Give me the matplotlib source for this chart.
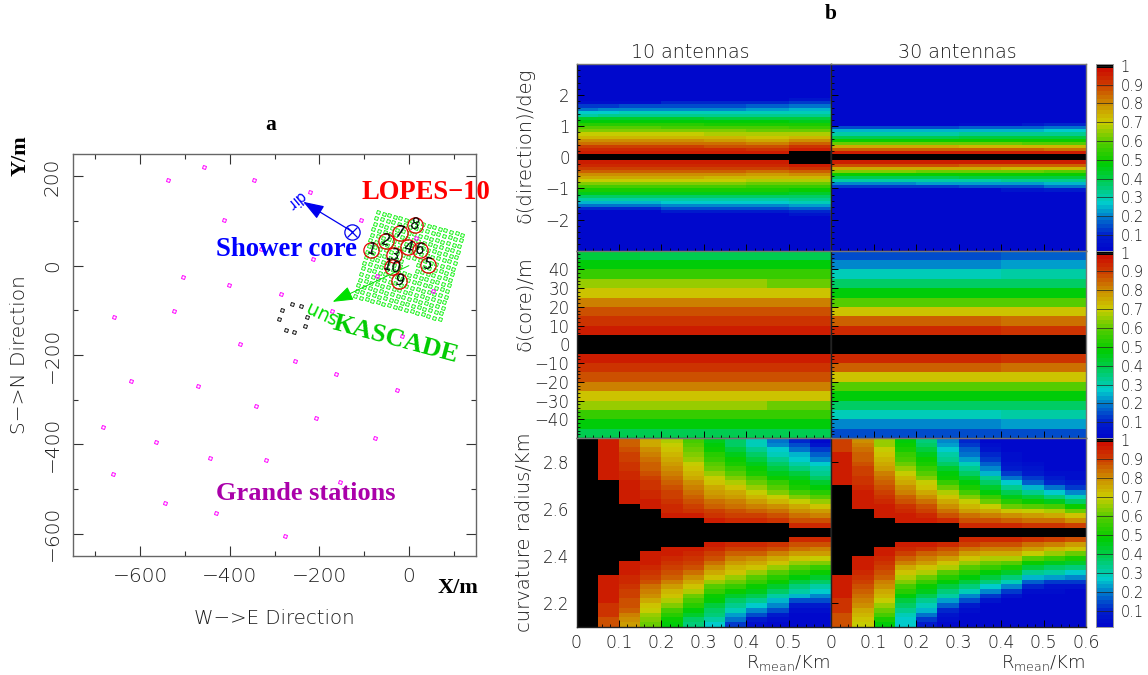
import matplotlib
matplotlib.use('Agg')
import matplotlib.pyplot as plt
from matplotlib.colors import ListedColormap, BoundaryNorm
from matplotlib.markers import MarkerStyle
from matplotlib.ticker import MultipleLocator, FixedLocator, FixedFormatter
from matplotlib.transforms import Affine2D
import numpy as np

W, H = 1148, 675
plt.rcParams['font.family'] = ['DejaVu Sans']
plt.rcParams['font.weight'] = 'light'
plt.rcParams['mathtext.default'] = 'regular'
INK = '#1c1c1c'

# ---- panel a: array layout (metres)
grande_x = [-537, -457, -346, -412, -504, -401, -286, -525, -659, -377, -255, -331,
            -221, -107, -213, -72, 17, 53, -171, -16, -620, -471, -163, -27, -342,
            -207, -76, -682, -564, -443, -320, -660, -154, -544, -431, -276]
grande_y = [192, 222, 192, 102, -25, -43, -64, -102, -115, -176, -214, 37,
            165, 102, 15, -23, 63, -57, -102, -157, -258, -270, -242, -279, -315,
            -342, -385, -362, -394, -430, -436, -467, -484, -532, -553, -605]
piccolo_x = [-260, -240, -227, -231, -256, -275, -289, -284]
piccolo_y = [-86, -90, -115, -135, -149, -144, -120, -99]
lopes_x = [-83.5, -51, -33, -1.6, 42.5, 24.6, -20, 12.8, -22.4, -38]
lopes_y = [35, 55, 22.8, 40.8, 2.2, 35, 72.7, 91, -34.3, -3]
lopes_id = ['1', '2', '3', '4', '5', '6', '7', '8', '9', '10']
kascade_offsets = [-97.5, -84.5, -71.5, -58.5, -45.5, -32.5, -19.5, -6.5,
                   6.5, 19.5, 32.5, 45.5, 58.5, 71.5, 84.5, 97.5]
kascade_angle = 15
core_xy = (-126, 76)
dir_tip = (-236, 143)
sun_tip = (-170, -81)

# ---- panel b: R bins and sensitivity tables (percent, 100 = black cell)
r_edges = [0, 0.05, 0.1, 0.15, 0.2, 0.25, 0.3, 0.35, 0.4, 0.45, 0.5, 0.55, 0.6]

# direction, rows go outward from zero starting at |d| = 0.1 deg
dir10_up = [
    [96, 96, 96, 96, 96, 96, 96, 96, 96, 96, 100, 100],
    [93, 93, 93, 93, 93, 93, 93, 93, 92, 92, 96, 96],
    [89, 89, 89, 89, 89, 89, 88, 88, 87, 87, 91, 91],
    [84, 84, 84, 84, 84, 84, 83, 83, 82, 82, 85, 85],
    [79, 79, 79, 79, 79, 79, 78, 78, 76, 76, 79, 79],
    [74, 74, 74, 74, 73, 73, 73, 73, 71, 71, 73, 73],
    [69, 69, 69, 69, 69, 69, 68, 68, 67, 67, 67, 67],
    [64, 64, 64, 64, 64, 64, 63, 63, 62, 62, 61, 61],
    [59, 59, 59, 59, 58, 58, 58, 58, 57, 57, 56, 56],
    [53, 53, 53, 53, 53, 53, 52, 52, 52, 52, 51, 51],
    [48, 48, 48, 48, 48, 48, 47, 47, 47, 47, 46, 46],
    [43, 43, 43, 43, 43, 43, 42, 42, 42, 42, 41, 41],
    [31, 32, 33, 33, 33, 33, 33, 33, 33, 33, 34, 34],
    [27, 27, 28, 28, 28, 28, 28, 28, 29, 29, 29, 29],
    [19, 21, 21, 21, 21, 21, 21, 21, 22, 22, 25, 25],
    [12, 12, 15, 15, 15, 15, 15, 15, 16, 16, 18, 18],
    [5, 5, 5, 5, 10, 10, 10, 10, 11, 11, 12, 12],
    [3, 3, 3, 3, 3, 3, 3, 3, 3, 3, 7, 7],
]
dir10_down = [
    [96, 96, 96, 96, 96, 96, 96, 96, 96, 96, 100, 100],
    [94, 94, 94, 94, 94, 94, 94, 94, 93, 93, 96, 96],
    [90, 90, 90, 90, 90, 90, 90, 90, 89, 89, 92, 92],
    [85, 85, 85, 85, 85, 85, 85, 85, 83, 83, 85, 85],
    [80, 80, 80, 80, 80, 80, 80, 80, 78, 78, 80, 80],
    [75, 75, 75, 75, 75, 75, 74, 74, 73, 73, 74, 74],
    [70, 70, 70, 70, 70, 70, 69, 69, 68, 68, 68, 68],
    [64, 64, 64, 64, 64, 64, 63, 63, 62, 62, 62, 62],
    [58, 58, 58, 58, 58, 58, 57, 57, 56, 56, 56, 56],
    [52, 52, 52, 52, 52, 52, 51, 51, 51, 51, 50, 50],
    [46, 46, 46, 46, 46, 46, 45, 45, 45, 45, 44, 44],
    [38, 38, 38, 38, 38, 38, 38, 38, 38, 38, 38, 38],
    [30, 30, 30, 30, 31, 31, 31, 31, 31, 31, 32, 32],
    [24, 24, 25, 25, 26, 26, 26, 26, 27, 27, 28, 28],
    [18, 18, 18, 18, 20, 20, 20, 20, 21, 21, 23, 23],
    [10, 10, 11, 11, 14, 14, 14, 14, 15, 15, 17, 17],
    [3, 3, 3, 3, 8, 8, 8, 8, 8, 8, 11, 11],
    [3, 3, 3, 3, 3, 3, 3, 3, 3, 3, 6, 6],
]
dir30_up = [
    [96, 96, 96, 96, 96, 96, 96, 96, 96, 96, 96, 96],
    [86, 86, 86, 86, 86, 86, 86, 85, 85, 85, 84, 84],
    [75, 75, 75, 75, 75, 75, 74, 74, 74, 73, 73, 73],
    [62, 62, 62, 62, 62, 62, 61, 61, 61, 60, 60, 60],
    [50, 50, 50, 50, 50, 50, 50, 50, 50, 50, 50, 50],
    [40, 40, 40, 40, 40, 40, 41, 41, 41, 42, 42, 42],
    [30, 30, 30, 30, 31, 31, 32, 32, 32, 33, 34, 34],
    [24, 24, 24, 24, 24, 24, 25, 25, 25, 25, 26, 26],
    [14, 14, 14, 14, 15, 15, 16, 16, 17, 17, 19, 19],
    [3, 3, 3, 3, 3, 3, 5, 5, 5, 8, 10, 10],
]
dir30_down = [
    [96, 96, 96, 96, 96, 96, 96, 96, 96, 96, 96, 96],
    [87, 87, 87, 87, 87, 87, 86, 86, 86, 85, 85, 85],
    [76, 76, 76, 76, 76, 75, 75, 75, 74, 74, 73, 73],
    [63, 63, 63, 63, 62, 62, 62, 62, 61, 61, 60, 60],
    [50, 50, 50, 50, 50, 50, 50, 50, 50, 50, 50, 50],
    [40, 40, 40, 40, 40, 40, 41, 41, 41, 42, 42, 42],
    [30, 30, 30, 30, 30, 30, 31, 31, 32, 32, 33, 33],
    [21, 21, 21, 21, 22, 22, 22, 22, 23, 23, 25, 25],
    [12, 12, 12, 12, 13, 13, 14, 14, 15, 15, 18, 18],
    [3, 3, 3, 3, 3, 3, 3, 3, 6, 6, 9, 9],
]

# core, rows go outward from zero starting at |d| = 5 m
core10_up = [
    [96, 96, 96, 96, 96, 96, 96, 96, 96, 96, 96, 96],
    [92, 92, 92, 92, 92, 92, 92, 92, 92, 92, 92, 92],
    [87, 87, 87, 87, 87, 87, 87, 87, 87, 87, 87, 87],
    [81, 81, 81, 81, 81, 81, 81, 81, 81, 81, 81, 81],
    [72, 72, 72, 72, 72, 72, 72, 72, 72, 72, 72, 72],
    [65, 65, 65, 65, 65, 65, 65, 65, 65, 61, 61, 61],
    [55, 55, 55, 55, 55, 55, 55, 55, 55, 55, 55, 55],
    [48, 48, 48, 48, 48, 48, 48, 48, 48, 48, 48, 48],
    [41, 41, 41, 40, 40, 40, 40, 40, 40, 40, 40, 40],
]
core10_down = [
    [96, 96, 96, 96, 96, 96, 96, 96, 96, 96, 96, 96],
    [92, 92, 92, 92, 92, 92, 92, 92, 92, 92, 92, 92],
    [87, 87, 87, 87, 87, 87, 87, 87, 87, 87, 87, 87],
    [81, 81, 81, 81, 81, 81, 81, 81, 81, 81, 81, 81],
    [72, 72, 72, 72, 72, 72, 72, 72, 72, 72, 72, 72],
    [65, 65, 65, 65, 65, 65, 65, 65, 65, 61, 61, 61],
    [55, 55, 55, 55, 55, 55, 55, 55, 55, 55, 55, 55],
    [48, 48, 48, 48, 48, 48, 48, 48, 48, 48, 48, 48],
    [40, 40, 40, 40, 40, 40, 40, 40, 40, 40, 40, 40],
]
core30_up = [
    [93, 93, 93, 93, 93, 93, 93, 93, 92, 92, 92, 92],
    [85, 85, 85, 85, 85, 85, 85, 85, 84, 84, 84, 84],
    [72, 72, 72, 72, 72, 72, 72, 72, 72, 72, 72, 72],
    [60, 60, 60, 60, 60, 60, 60, 60, 60, 60, 60, 60],
    [48, 48, 48, 48, 48, 48, 48, 48, 48, 48, 48, 48],
    [38, 38, 38, 38, 38, 38, 38, 38, 38, 38, 38, 38],
    [29, 29, 29, 29, 29, 29, 29, 29, 30, 30, 30, 30],
    [21, 21, 21, 21, 21, 21, 21, 21, 22, 22, 22, 22],
    [15, 15, 15, 15, 15, 15, 15, 15, 16, 16, 16, 16],
]
core30_down = [
    [93, 93, 93, 93, 93, 93, 93, 93, 92, 92, 92, 92],
    [85, 85, 85, 85, 85, 85, 85, 85, 84, 84, 84, 84],
    [72, 72, 72, 72, 72, 72, 72, 72, 72, 72, 72, 72],
    [60, 60, 60, 60, 60, 60, 60, 60, 60, 60, 60, 60],
    [48, 48, 48, 48, 48, 48, 48, 48, 48, 48, 48, 48],
    [38, 38, 38, 38, 38, 38, 38, 38, 38, 38, 38, 38],
    [29, 29, 29, 29, 29, 29, 29, 29, 30, 30, 30, 30],
    [21, 21, 21, 21, 21, 21, 21, 21, 22, 22, 22, 22],
    [14, 14, 14, 14, 14, 14, 14, 14, 15, 15, 15, 15],
]

# curvature, one entry per R column: cells read downward from 2.9 to the black
# band, and cells read downward from the black band to 2.1
curv10_top = [
    [],
    [96, 96, 96, 96, 96, 96, 96, 96, 96],
    [85, 86, 88, 89, 90, 92, 92, 94, 94, 96, 96, 96, 96, 96],
    [76, 76, 79, 81, 83, 85, 86, 88, 89, 91, 92, 94, 94, 96, 96],
    [68, 69, 71, 73, 75, 78, 80, 82, 84, 85, 87, 89, 90, 92, 93, 94, 96],
    [58, 59, 62, 64, 66, 69, 71, 73, 76, 79, 82, 84, 86, 88, 90, 92, 96],
    [46, 47, 50, 53, 56, 59, 62, 66, 70, 72, 75, 78, 80, 83, 86, 89, 92, 96],
    [37, 38, 42, 46, 49, 52, 56, 60, 64, 68, 71, 75, 78, 81, 84, 87, 90, 94],
    [28, 29, 33, 37, 41, 46, 49, 52, 57, 61, 66, 70, 74, 78, 82, 85, 89, 93],
    [18, 21, 26, 29, 33, 37, 41, 46, 50, 55, 59, 64, 69, 74, 79, 83, 87, 92],
    [11, 14, 18, 24, 27, 31, 36, 42, 46, 49, 52, 58, 64, 70, 75, 80, 84, 88, 94],
    [3, 6, 13, 17, 21, 27, 30, 34, 38, 44, 48, 53, 60, 66, 72, 77, 82, 88, 94],
]
curv10_bot = [
    [],
    [96, 96, 96, 96, 96, 96, 92, 92, 92, 88, 88],
    [96, 96, 96, 93, 93, 92, 90, 90, 88, 87, 85, 82, 80, 78],
    [96, 96, 96, 93, 92, 89, 87, 84, 82, 79, 75, 72, 69, 66, 64, 62],
    [96, 95, 94, 92, 90, 88, 85, 82, 78, 74, 71, 68, 63, 58, 54, 50, 47],
    [96, 94, 92, 90, 87, 84, 80, 76, 72, 68, 62, 58, 53, 47, 43, 38, 36],
    [96, 93, 90, 87, 84, 80, 76, 71, 66, 60, 55, 50, 47, 42, 38, 35, 30, 27],
    [94, 90, 86, 82, 78, 74, 71, 66, 61, 55, 50, 44, 38, 33, 28, 23, 18, 12],
    [93, 89, 85, 80, 76, 71, 66, 60, 55, 50, 45, 40, 33, 27, 21, 15, 9, 5],
    [92, 87, 82, 76, 71, 65, 60, 54, 49, 44, 37, 31, 25, 20, 15, 9, 5, 3],
    [94, 88, 83, 77, 71, 65, 59, 53, 47, 42, 36, 30, 24, 15, 8, 5, 3, 3, 3],
    [94, 88, 82, 77, 70, 63, 56, 49, 44, 38, 31, 27, 21, 15, 9, 4, 3, 3, 3],
]
curv30_top = [
    [90, 90, 90, 96, 96, 96, 96, 96, 96, 96],
    [80, 81, 83, 85, 86, 88, 89, 90, 91, 92, 93, 96, 96, 96, 96],
    [65, 66, 69, 71, 74, 76, 78, 81, 83, 85, 87, 89, 91, 93, 95, 96, 96],
    [47, 49, 52, 55, 58, 62, 65, 70, 73, 76, 79, 82, 85, 88, 91, 93, 95, 96],
    [36, 38, 42, 46, 49, 52, 56, 60, 64, 69, 72, 76, 80, 84, 87, 90, 94, 96],
    [20, 23, 27, 30, 34, 38, 43, 47, 50, 56, 62, 67, 71, 75, 79, 84, 88, 94],
    [10, 13, 16, 19, 23, 28, 33, 38, 44, 48, 52, 58, 63, 69, 74, 78, 83, 88, 94],
    [3, 5, 7, 10, 12, 16, 20, 25, 32, 37, 43, 48, 55, 62, 69, 75, 81, 87, 94],
    [3, 3, 3, 4, 5, 7, 9, 13, 18, 26, 32, 40, 46, 54, 62, 72, 79, 86, 93],
    [3, 3, 3, 3, 3, 4, 6, 8, 12, 17, 24, 32, 41, 50, 60, 70, 77, 84, 92],
    [3, 3, 3, 3, 3, 3, 3, 5, 8, 11, 18, 27, 35, 45, 57, 68, 75, 83, 92],
    [3, 3, 3, 3, 3, 3, 3, 4, 5, 9, 13, 20, 28, 38, 50, 62, 72, 80, 90],
]
curv30_bot = [
    [96, 96, 96, 96, 96, 92, 92, 92, 87, 87, 87],
    [96, 96, 96, 94, 92, 90, 88, 86, 84, 81, 79, 76, 74, 71, 69],
    [96, 96, 94, 92, 90, 87, 85, 82, 79, 76, 73, 70, 66, 62, 57, 52, 48],
    [96, 93, 89, 85, 81, 76, 71, 68, 64, 58, 54, 48, 42, 37, 33, 28, 27, 26],
    [95, 91, 86, 81, 77, 72, 68, 62, 56, 50, 46, 40, 34, 29, 24, 18, 13, 9],
    [93, 88, 83, 78, 72, 68, 60, 54, 48, 42, 36, 30, 22, 17, 10, 6, 4, 3],
    [94, 89, 84, 78, 72, 66, 60, 53, 47, 41, 35, 28, 21, 14, 8, 4, 3, 3, 3],
    [94, 87, 81, 75, 68, 62, 55, 48, 42, 35, 27, 20, 13, 7, 3, 3, 3, 3, 3],
    [93, 87, 81, 75, 68, 60, 52, 44, 36, 28, 20, 12, 6, 3, 3, 3, 3, 3, 3],
    [92, 84, 77, 70, 60, 50, 42, 33, 24, 17, 10, 5, 3, 3, 3, 3, 3, 3, 3],
    [90, 81, 74, 66, 56, 46, 38, 30, 22, 13, 7, 4, 3, 3, 3, 3, 3, 3, 3],
    [88, 78, 71, 62, 52, 43, 35, 27, 20, 12, 6, 3, 3, 3, 3, 3, 3, 3, 3],
]

# palette stops
pal_at = [0.0, 0.10, 0.20, 0.27, 0.38, 0.48, 0.60, 0.70, 0.80, 0.90, 0.98]
pal_r = [0, 0, 0, 0, 0, 0, 90, 204, 204, 204, 204]
pal_g = [0, 30, 125, 204, 204, 204, 204, 204, 140, 60, 15]
pal_b = [204, 204, 204, 204, 90, 0, 0, 0, 0, 0, 0]

levels = np.arange(49) * 0.0202 + 0.017
mids = (levels[:-1] + levels[1:]) / 2
cols = np.c_[np.interp(mids, pal_at, pal_r), np.interp(mids, pal_at, pal_g), np.interp(mids, pal_at, pal_b)] / 255
cols = np.vstack([cols, [0, 0, 0]])
edges = np.append(levels, 1.01)
cmap = ListedColormap(cols)
cmap.set_under(cols[0])
norm = BoundaryNorm(edges, cmap.N)


def px_axes(l, t, r, b):
    return fig.add_axes([l / W, 1 - b / H, (r - l) / W, (b - t) / H])


def put(x, y, s, **kw):
    kw.setdefault('ha', 'center')
    kw.setdefault('va', 'center')
    return fig.text(x / W, 1 - y / H, s, **kw)


def dir_grid(up, down):
    up, down = np.array(up), np.array(down)
    z = np.full((60, 12), 3.0)
    z[29:31] = 100
    z[31:31 + len(up)] = up
    z[29 - len(down):29] = down[::-1]
    return z / 100


def core_grid(up, down):
    return np.vstack([np.array(down)[::-1], np.full((2, 12), 100), np.array(up)]) / 100


def curv_grid(top, bot):
    z = np.zeros((40, 12))
    for j in range(12):
        n = 40 - len(top[j]) - len(bot[j])
        z[:, j] = top[j] + [100] * n + bot[j]
    return z[::-1] / 100


fig = plt.figure(figsize=(W / 100, H / 100), dpi=100)

# ---------------- panel a
ax = px_axes(73, 154, 476, 556)
ax.set_xlim(-750, 150)
ax.set_ylim(-650, 250)
ax.xaxis.set_major_locator(MultipleLocator(200))
ax.xaxis.set_minor_locator(MultipleLocator(100))
ax.yaxis.set_major_locator(MultipleLocator(200))
ax.yaxis.set_minor_locator(MultipleLocator(100))
ax.tick_params(which='major', direction='in', top=True, right=True, length=7.5, width=0.8, color='#333333',
               labelsize=14.5, labelcolor=INK, pad=8)
ax.tick_params(which='minor', direction='in', top=True, right=True, length=3.8, width=0.8, color='#333333')
for t in ax.get_yticklabels():
    t.set_rotation(90)
    t.set_va('center')
for s in ax.spines.values():
    s.set_color('#666666')
    s.set_linewidth(1)

ang = np.deg2rad(kascade_angle)
gu, gv = np.meshgrid(kascade_offsets, kascade_offsets)
keep = ~((np.abs(gu) < 10) & (np.abs(gv) < 10))
gx = gu[keep] * np.cos(ang) + gv[keep] * np.sin(ang)
gy = -gu[keep] * np.sin(ang) + gv[keep] * np.cos(ang)
ms_rot = MarkerStyle('s', transform=Affine2D().rotate_deg(-kascade_angle))
ax.plot(gx, gy, ls='', marker=ms_rot, ms=2.2, mfc='none', mec='#00ee00', mew=0.6)

# rotating the small squares a touch stops them snapping away to a dot
st_rot = MarkerStyle('s', transform=Affine2D().rotate_deg(-kascade_angle))
ax.plot(grande_x, grande_y, ls='', marker=st_rot, ms=2.4, mfc='none', mec='#ff00ff', mew=0.7)
ax.plot(piccolo_x, piccolo_y, ls='', marker=st_rot, ms=2.4, mfc='none', mec='#111111', mew=0.7)

ax.annotate('', xy=dir_tip, xytext=core_xy,
            arrowprops=dict(arrowstyle='-|>,head_length=0.85,head_width=0.3', color='#0000ee', lw=0.9,
                            mutation_scale=15, shrinkA=0, shrinkB=0))
ax.annotate('', xy=sun_tip, xytext=(0, 0),
            arrowprops=dict(arrowstyle='-|>,head_length=0.85,head_width=0.3', color='#00e000', lw=0.7,
                            mutation_scale=15, shrinkA=0, shrinkB=0))
ax.plot(*core_xy, marker='o', ms=11, mfc='none', mec='#0000ee', mew=0.9)
ax.plot(*core_xy, marker='x', ms=7.5, mec='#0000ee', mew=0.9)

ax.plot(lopes_x, lopes_y, ls='', marker='o', ms=11, mfc='none', mec='#e00000', mew=0.9)
for i in range(len(lopes_id)):
    ax.text(lopes_x[i], lopes_y[i], lopes_id[i], fontsize=10.5, ha='center', va='center', color='black',
            rotation=-15, zorder=5, family='DejaVu Sans', fontweight='normal')

serif = dict(family='Liberation Serif', fontweight='bold')
put(271, 125, 'a', fontsize=15.5, color='black', **serif)
put(831, 14, 'b', fontsize=15.5, color='black', **serif)
put(21, 156, 'Y/m', fontsize=16, rotation=90, color='black', **serif)
put(458, 588, 'X/m', fontsize=16, color='black', **serif)
put(426, 192, 'LOPES\u221210', fontsize=19.2, color='#ff0000', **serif)
put(286, 250, 'Shower core', fontsize=19.3, color='#0000ff', **serif)
put(395, 339, 'KASCADE', fontsize=19, color='#00cc00', rotation=-15, **serif)
put(306, 494, 'Grande stations', fontsize=19, color='#aa00aa', **serif)
put(296, 200, 'dir', fontsize=10.5, color='#0000ff', rotation=220, fontweight='normal')
put(320, 312, 'sun', fontsize=13.5, color='#00dd00', rotation=155, fontweight='normal')
put(20, 355, 'S\u2212>N Direction', fontsize=14.5, rotation=90, color=INK)
put(274, 619, 'W\u2212>E Direction', fontsize=14.2, color=INK)

# ---------------- panel b
col_px = [(576.5, 831), (831, 1086)]
row_px = [(64, 250.7), (250.7, 438), (438, 626.7)]
row_lims = [(-3, 3), (-50, 50), (2.1, 2.9)]
row_ticks = [[-2, -1, 0, 1, 2], [-40, -30, -20, -10, 0, 10, 20, 30, 40], [2.2, 2.4, 2.6, 2.8]]
row_minor = [0.2, 2, None]
row_labels = ['\u03b4(direction)/deg', '\u03b4(core)/m', 'curvature radius/Km']
row_label_y = [145, 304, 532]
grids = [
    [dir_grid(dir10_up, dir10_down), dir_grid(dir30_up, dir30_down)],
    [core_grid(core10_up, core10_down), core_grid(core30_up, core30_down)],
    [curv_grid(curv10_top, curv10_bot), curv_grid(curv30_top, curv30_bot)],
]
xticks_left = [0, 0.1, 0.2, 0.3, 0.4, 0.5]
xticks_right = [0, 0.1, 0.2, 0.3, 0.4, 0.5, 0.6]
xlab_fmt = ['0', '0.1', '0.2', '0.3', '0.4', '0.5', '0.6']

for i in range(3):
    for j in range(2):
        a = px_axes(col_px[j][0], row_px[i][0], col_px[j][1], row_px[i][1])
        z = grids[i][j]
        y_edges = np.linspace(row_lims[i][0], row_lims[i][1], z.shape[0] + 1)
        a.pcolormesh(r_edges, y_edges, z, cmap=cmap, norm=norm, rasterized=True)
        a.set_xlim(0, 0.6)
        a.set_ylim(*row_lims[i])
        a.xaxis.set_major_locator(MultipleLocator(0.1))
        a.xaxis.set_minor_locator(MultipleLocator(0.02))
        a.set_yticks(row_ticks[i])
        if row_minor[i]:
            a.yaxis.set_minor_locator(MultipleLocator(row_minor[i]))
        a.tick_params(which='major', direction='in', length=5, width=0.7, color='black',
                      labelsize=12, labelcolor=INK, pad=5)
        a.tick_params(which='minor', direction='in', length=2.3, width=0.6, color='black')
        if i < 2:
            a.tick_params(labelbottom=False)
        else:
            a.xaxis.set_major_locator(FixedLocator(xticks_left if j == 0 else xticks_right))
            a.xaxis.set_major_formatter(FixedFormatter(xlab_fmt))
            a.tick_params(axis='x', pad=5, labelsize=12.5)
        if j == 1:
            a.tick_params(labelleft=False)
        for name, s in a.spines.items():
            s.set_color('#222222' if name in ('left', 'bottom') else '#777777')
            s.set_linewidth(1)
    put(525, row_label_y[i], row_labels[i], fontsize=14, rotation=90, color=INK)

    # colour key next to each row
    c = px_axes(1096, row_px[i][0], 1112.7, row_px[i][1])
    c.pcolormesh([0, 1], edges, ((edges[:-1] + edges[1:]) / 2)[:, None], cmap=cmap, norm=norm)
    c.set_ylim(0.017, 1.01)
    c.set_xlim(0, 1)
    c.set_xticks([])
    c.yaxis.tick_right()
    c.set_yticks([0.1, 0.2, 0.3, 0.4, 0.5, 0.6, 0.7, 0.8, 0.9, 1])
    c.set_yticklabels(['0.1', '0.2', '0.3', '0.4', '0.5', '0.6', '0.7', '0.8', '0.9', '1'])
    c.tick_params(axis='y', direction='in', length=12, width=0.5, color='#222222', labelsize=10.5, labelcolor=INK, pad=5.5)
    for s in c.spines.values():
        s.set_color('#999999')
        s.set_linewidth(0.7)

put(690, 52, '10 antennas', fontsize=13.7, color=INK)
put(957, 52, '30 antennas', fontsize=13.7, color=INK)
put(830, 663, 'R$_{mean}$/Km', fontsize=13, color=INK, ha='right')
put(1085, 663, 'R$_{mean}$/Km', fontsize=13, color=INK, ha='right')

fig.savefig('out.png', dpi=100)
